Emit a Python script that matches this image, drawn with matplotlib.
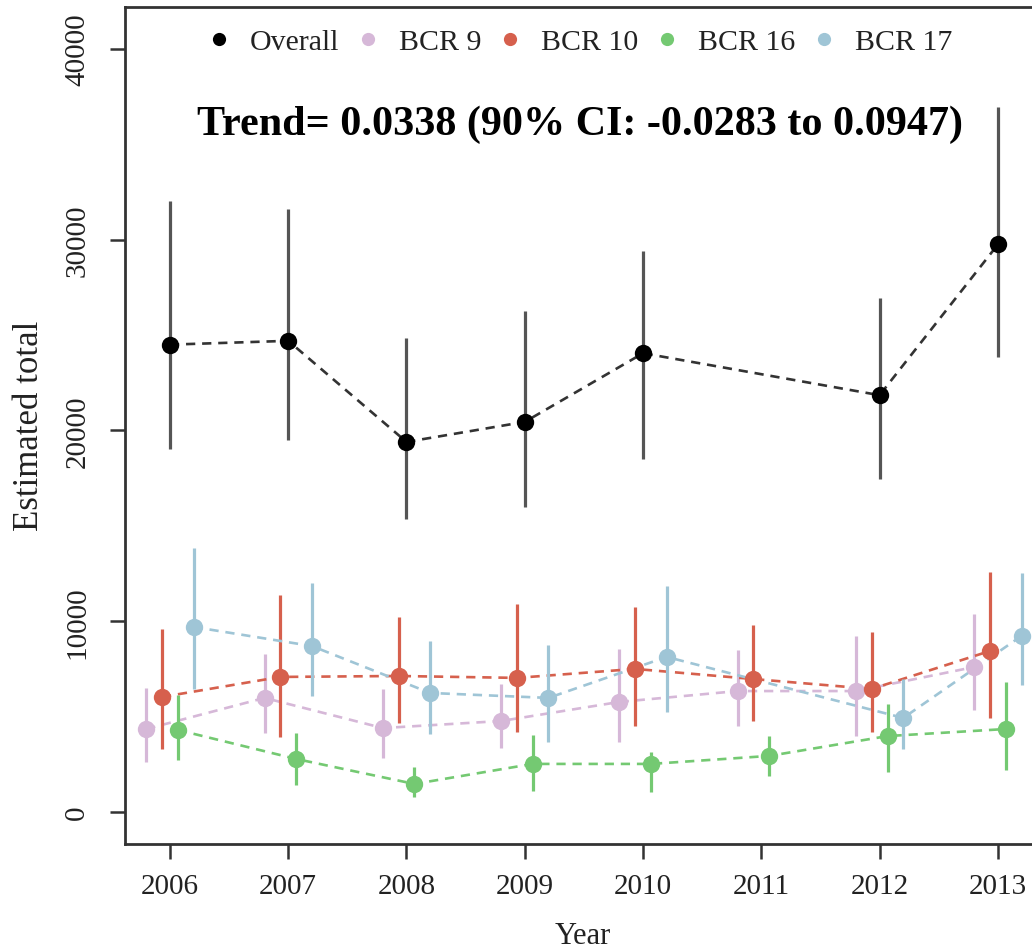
import numpy as np
import matplotlib.pyplot as plt

plt.rcParams['font.family'] = ['Liberation Serif', 'DejaVu Serif']

# Data
years = np.array([2006, 2007, 2008, 2009, 2010, 2011, 2012, 2013])
nan = np.nan

overall = [24500, 24700, 19400, 20450, 24050, nan, 21850, 29750]
overall_lo = [19030, 19500, 15360, 15990, 18500, nan, 17460, 23850]
overall_hi = [32030, 31610, 24850, 26270, 29410, nan, 26950, 36960]

bcr9 = [4350, 5980, 4400, 4770, 5770, 6340, 6340, 7600]
bcr9_lo = [2620, 4140, 2830, 3360, 3670, 4510, 3980, 5350]
bcr9_hi = [6500, 8280, 6450, 6710, 8550, 8490, 9230, 10380]

bcr10 = [6030, 7080, 7130, 7030, 7500, 6970, 6450, 8440]
bcr10_lo = [3300, 3930, 4670, 4190, 4510, 4770, 4190, 4930]
bcr10_hi = [9590, 11380, 10220, 10900, 10750, 9800, 9440, 12580]

bcr16 = [4300, 2780, 1470, 2520, 2520, 2940, 3980, 4350]
bcr16_lo = [2730, 1420, 790, 1100, 1050, 1890, 2100, 2200]
bcr16_hi = [6130, 4140, 2360, 4040, 3150, 3980, 5660, 6820]

bcr17 = [9700, 8700, 6240, 5980, 8130, nan, 4930, 9230]
bcr17_lo = [6450, 6080, 4090, 3670, 5240, nan, 3300, 6660]
bcr17_hi = [13840, 12010, 8970, 8760, 11850, nan, 6970, 12530]

labels = ['Overall', 'BCR 9', 'BCR 10', 'BCR 16', 'BCR 17']
colors = ['black', '#d6b8d8', '#d6604d', '#74c972', '#9fc5d6']
bar_colors = ['#555555', '#d6b8d8', '#d6604d', '#74c972', '#9fc5d6']
offsets = [0, -0.2, -0.067, 0.067, 0.2]
series = [(overall, overall_lo, overall_hi), (bcr9, bcr9_lo, bcr9_hi),
          (bcr10, bcr10_lo, bcr10_hi), (bcr16, bcr16_lo, bcr16_hi),
          (bcr17, bcr17_lo, bcr17_hi)]

fig = plt.figure(figsize=(10.32, 9.53), dpi=100)
ax = fig.add_axes([125 / 1032, 108 / 953, 932 / 1032, 837 / 953])

# colored series first, overall on top
order = [1, 2, 3, 4, 0]
for i in order:
    est, lo, hi = [np.array(a, dtype=float) for a in series[i]]
    x = years + offsets[i]
    ok = ~np.isnan(est)
    ax.vlines(x[ok], lo[ok], hi[ok], color=bar_colors[i], lw=2.3, zorder=2)
    ax.plot(x[ok], est[ok], ls=(0, (3.5, 2.6)), color=colors[i] if i else '#333333',
            lw=1.9, zorder=2)
    ax.plot(x[ok], est[ok], 'o', color=colors[i], ms=12.5, mec='none', zorder=3)

ax.set_xlim(2005.62, 2013.5)
ax.set_ylim(-1678, 42200)
ax.set_xticks(years)
ax.set_yticks([0, 10000, 20000, 30000, 40000])
ax.set_yticklabels(['0', '10000', '20000', '30000', '40000'], rotation=90, va='center')
ax.tick_params(labelsize=21, length=11, width=1.8, colors='#333333', labelcolor='#222222')
ax.tick_params(axis='y', pad=14)
ax.tick_params(axis='x', pad=10)
for s in ax.spines.values():
    s.set_color('#333333')
    s.set_linewidth(2)

fig.text(30 / 1032, 1 - 426 / 953, 'Estimated total', rotation=90, ha='center', va='center',
         fontsize=25, color='#222222')
fig.text(583 / 1032, 1 - 937 / 953, 'Year', ha='center', va='center', fontsize=22, color='#222222')

# legend
handles = [plt.Line2D([], [], ls='none', marker='o', ms=9.5, color=c, mec='none') for c in colors]
ax.legend(handles, labels, loc='center', bbox_to_anchor=(581 / 1032, 1 - 43 / 953),
          bbox_transform=fig.transFigure, ncol=5, frameon=False, fontsize=21.5,
          handlelength=0.6, handletextpad=0.72, columnspacing=0.68, labelcolor='#222222')

fig.text(580 / 1032, 1 - 135 / 953, 'Trend= 0.0338 (90% CI: -0.0283 to 0.0947)',
         ha='center', va='baseline', fontsize=30.3, fontweight='bold')

fig.savefig('out.png', dpi=100)
